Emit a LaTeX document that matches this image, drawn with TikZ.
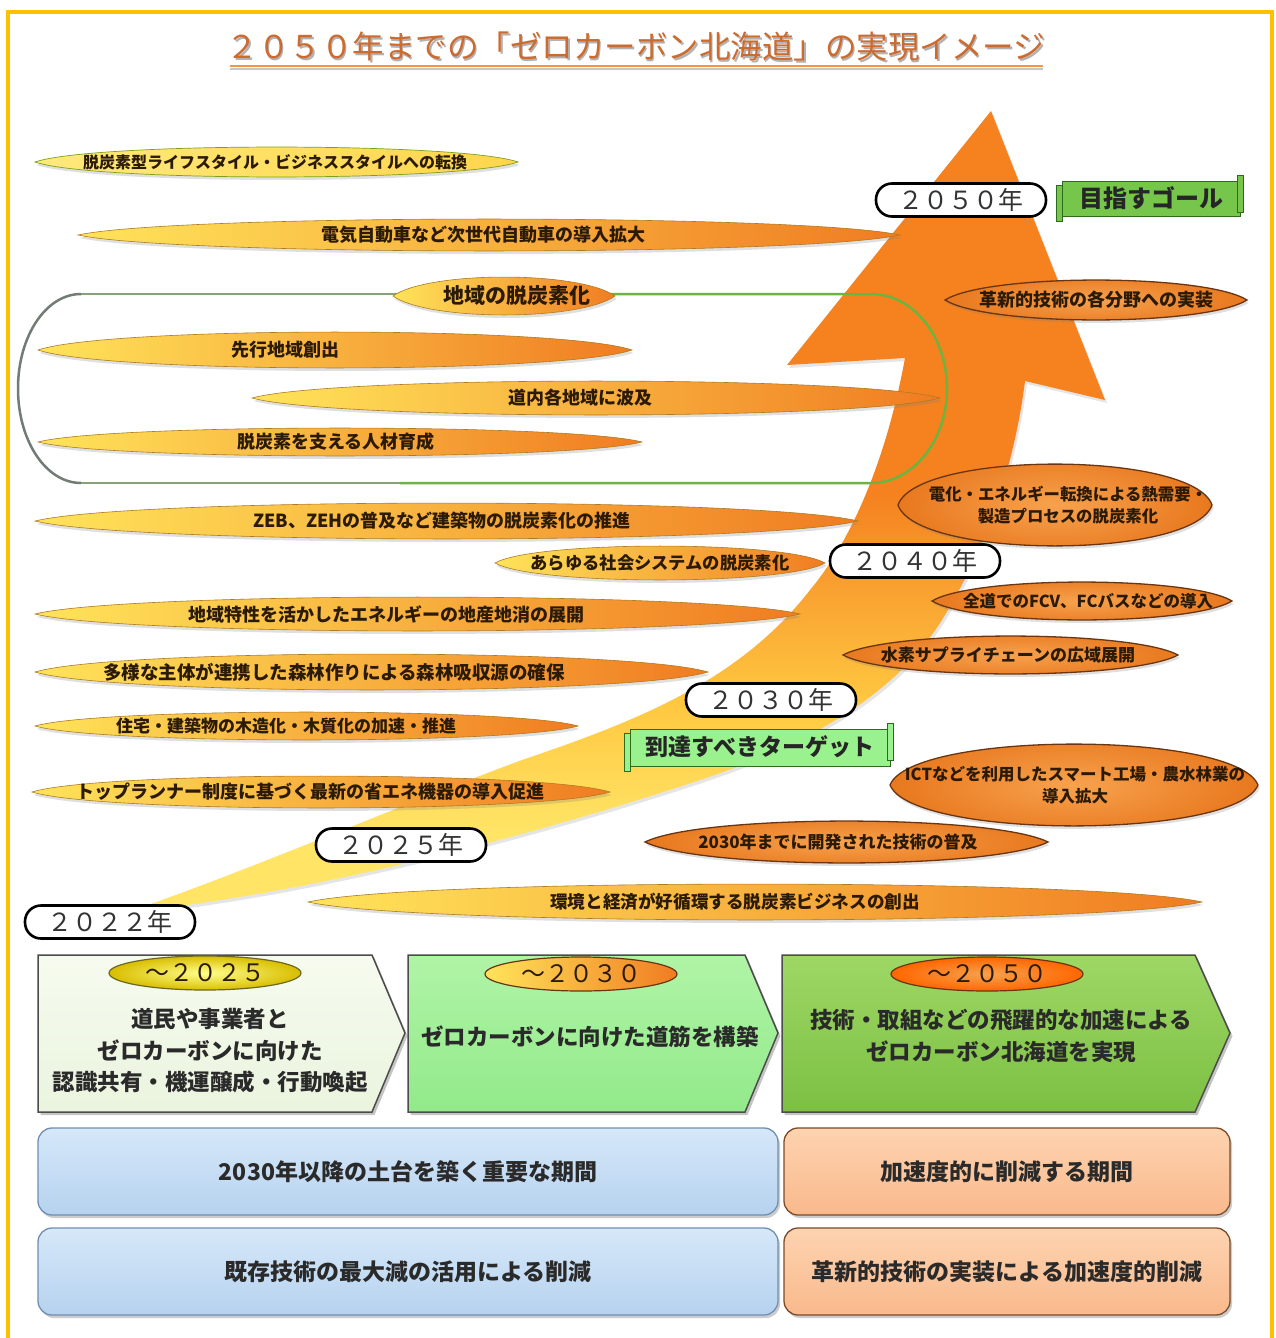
\documentclass[tikz,border=0pt]{standalone}
\usepackage{fontspec}
\setmainfont{Noto Sans CJK JP}
\usetikzlibrary{shadows,shapes.geometric}
\definecolor{ay1}{HTML}{FFE466}
\definecolor{ay2}{HTML}{FFC840}
\definecolor{ay3}{HTML}{F9A232}
\definecolor{aor}{HTML}{F5821F}
\definecolor{capY}{HTML}{FFE45A}
\definecolor{capO}{HTML}{F07C22}
\definecolor{capedge}{HTML}{B07A20}
\definecolor{captext}{HTML}{2B1A05}
\definecolor{oin}{HTML}{F7A24E}
\definecolor{oout}{HTML}{E8781E}
\definecolor{oedge}{HTML}{6A3510}
\definecolor{framecol}{HTML}{FFC000}
\definecolor{titlecol}{HTML}{CD6B2F}
\definecolor{loopg}{HTML}{6DB33F}
\definecolor{loopgr}{HTML}{727C74}
\definecolor{loopmix}{HTML}{86A276}
\definecolor{goalg}{HTML}{76C64C}
\definecolor{targg}{HTML}{9AF28E}
\definecolor{bandedge}{HTML}{2E6A1C}
\definecolor{yrtext}{HTML}{333333}
\definecolor{boxtext}{HTML}{2A2A2A}
\definecolor{ch1t}{HTML}{F6FBEF}
\definecolor{ch1b}{HTML}{EAF4DE}
\definecolor{ch2t}{HTML}{B0F4A6}
\definecolor{ch2b}{HTML}{92EA8A}
\definecolor{ch3t}{HTML}{9ED765}
\definecolor{ch3b}{HTML}{7CC043}
\definecolor{blt}{HTML}{D6E8F9}
\definecolor{blb}{HTML}{B6D2EF}
\definecolor{bld}{HTML}{6F8FB2}
\definecolor{pet}{HTML}{FDD3B0}
\definecolor{peb}{HTML}{F9B98C}
\definecolor{ped}{HTML}{7A4A2A}
\pgfdeclareverticalshading{arrowshade}{100bp}{color(0bp)=(ay1); color(30bp)=(ay1); color(38bp)=(ay2); color(45bp)=(ay3); color(51bp)=(aor); color(100bp)=(aor)}
\newcommand\spindle[6][0.12]{%
 \pgfmathsetmacro\spA{#2+#1*(#3-#2)}%
 \pgfmathsetmacro\spB{#3-#1*(#3-#2)}%
 \pgfmathsetmacro\spT{#4-1.33*#5}%
 \pgfmathsetmacro\spD{#4+1.33*#5}%
 \path[#6] (#2,#4) .. controls (\spA,\spT) and (\spB,\spT) .. (#3,#4) .. controls (\spB,\spD) and (\spA,\spD) .. cycle;}
\tikzset{
 softshadow/.style={drop shadow={shadow xshift=1.5pt,shadow yshift=-3pt,opacity=0.25}},
 yall/.style={left color=capY!80!white, middle color=capY!70!white, right color=capY!85!orange, draw=capedge!70!green, line width=0.7pt, softshadow},
 ylate/.style={left color=capY, middle color=capY!88!capO, right color=capO, draw=capedge, line width=0.6pt, softshadow},
 ymid/.style={left color=capY, middle color=capY!50!capO, right color=capO, draw=capedge, line width=0.6pt, softshadow},
 olens/.style={inner color=oin, outer color=oout, draw=oedge, line width=1.3pt, softshadow},
 captxt/.style={text=captext, inner sep=0pt, align=center, font=\bfseries\fontsize{#1}{22}\selectfont},
 captxt/.default=18,
 yrlabel/.style={draw=black, line width=2.6pt, fill=white, rounded corners=16pt, minimum width=170pt, minimum height=33pt, inner sep=0pt, text=yrtext, font=\fontsize{25}{25}\selectfont},
 banner/.style={draw=bandedge, line width=1pt},
 chevbox/.style={draw=black!70, line width=1.5pt, drop shadow={shadow xshift=2.5pt,shadow yshift=-3pt,opacity=0.45}},
 chtext/.style={text=boxtext, align=center, inner sep=0pt, font=\bfseries\fontsize{22.5}{31.5}\selectfont},
 yoval/.style={shape=ellipse, minimum width=192pt, minimum height=34pt, inner sep=0pt, line width=1.2pt, text=captext, font=\fontsize{24}{24}\selectfont},
 bbox/.style={rounded corners=14pt, minimum height=87pt, inner sep=0pt, line width=1.3pt, text=boxtext, font=\bfseries\fontsize{23}{23}\selectfont, drop shadow={shadow xshift=2pt,shadow yshift=-3pt,opacity=0.4}},
 bluebox/.style={bbox, top color=blt, bottom color=blb, draw=bld, minimum width=740pt},
 peachbox/.style={bbox, top color=pet, bottom color=peb, draw=ped, minimum width=446pt},
}
\begin{document}
\begin{tikzpicture}[x=1pt,y=-1pt]
\useasboundingbox (0,0) rectangle (1276,1338);
\fill[white] (0,0) rectangle (1276,1338);
% frame
\draw[framecol, line width=4pt] (8,1340) -- (8,12) -- (1272,12) -- (1272,1340);
% title
\node[text=black!30, font=\fontsize{31.5}{31.5}\selectfont] (titleshadow) at (637.5,48.5) {２０５０年までの「ゼロカーボン北海道」の実現イメージ};
\node[text=titlecol, font=\fontsize{31.5}{31.5}\selectfont] (title) at (636,47) {２０５０年までの「ゼロカーボン北海道」の実現イメージ};
\draw[gray!45, line width=1.5pt] (230,69) -- (1043,69);
\draw[orange!70!brown!80!white, line width=2.5pt] (230,66) -- (1043,66);
% big arrow
\shade[shading=arrowshade, drop shadow={shadow xshift=2pt,shadow yshift=-3pt,opacity=0.2}]
 (128,912) .. controls (300,895) and (520,840) .. (700,780)
 .. controls (820,740) and (900,690) .. (945,615)
 .. controls (990,540) and (1015,460) .. (1025,381)
 -- (1105,400) -- (991,111) -- (787,365) -- (905,358)
 .. controls (890,440) and (860,530) .. (810,590)
 .. controls (740,680) and (640,720) .. (522,760)
 .. controls (400,805) and (250,870) .. (128,912) -- cycle;
% green loop
\draw[loopg, line width=2.5pt] (400,294) -- (871,294) .. controls (913,294) and (947,336) .. (947,388.5) .. controls (947,441) and (913,483) .. (871,483) -- (400,483);
\draw[loopmix, line width=2.5pt] (400,294) -- (81,294);
\draw[loopmix, line width=2.5pt] (400,483) -- (81,483);
\draw[loopgr, line width=2.5pt] (81,483) .. controls (46,483) and (18,441) .. (18,388.5) .. controls (18,336) and (46,294) .. (81,294);
% left capsules
\spindle{35}{518}{162}{15}{yall}
\spindle{78}{900}{235}{16}{ymid}
\spindle[0.16]{393}{615}{296}{19}{ymid}
\spindle{38}{632}{350}{18}{ylate}
\spindle{252}{940}{398}{17}{ymid}
\spindle{38}{642}{442}{14}{ylate}
\spindle{35}{858}{521}{18}{ylate}
\spindle{495}{825}{563}{17}{ylate}
\spindle{35}{800}{614}{17}{ylate}
\spindle{35}{708}{672}{18}{ylate}
\spindle{35}{578}{726}{14}{ylate}
\spindle{32}{610}{792}{16}{ylate}
\spindle{308}{1202}{902}{18}{ymid}
% right orange capsules
\spindle[0.14]{945}{1247}{300}{20}{olens}
\spindle[0.06]{898}{1212}{505}{41}{olens}
\spindle[0.14]{932}{1232}{601}{19}{olens}
\spindle[0.14]{843}{1178}{655}{19}{olens}
\spindle[0.06]{890}{1258}{785}{41}{olens}
\spindle[0.14]{645}{1048}{842}{21}{olens}
% capsule texts
\node[captxt=16] (c1) at (275,162) {脱炭素型ライフスタイル・ビジネススタイルへの転換};
\node[captxt] (c2) at (483,235) {電気自動車など次世代自動車の導入拡大};
\node[captxt=21] (c3) at (517,296) {地域の脱炭素化};
\node[captxt] (c4) at (285,350) {先行地域創出};
\node[captxt] (c5) at (580,398) {道内各地域に波及};
\node[captxt] (c6) at (336,442) {脱炭素を支える人材育成};
\node[captxt] (c7) at (442,521) {ZEB、ZEHの普及など建築物の脱炭素化の推進};
\node[captxt=17.3] (c8) at (660,563) {あらゆる社会システムの脱炭素化};
\node[captxt] (c9) at (386,614) {地域特性を活かしたエネルギーの地産地消の展開};
\node[captxt=18.5] (c10) at (334,672) {多様な主体が連携した森林作りによる森林吸収源の確保};
\node[captxt=17] (c11) at (286,726) {住宅・建築物の木造化・木質化の加速・推進};
\node[captxt] (c12) at (310,792) {トップランナー制度に基づく最新の省エネ機器の導入促進};
\node[captxt=17.6] (c13) at (735,902) {環境と経済が好循環する脱炭素ビジネスの創出};
\node[captxt] (c14) at (1096,300) {革新的技術の各分野への実装};
\node[captxt=16.4] (c15) at (1068,505) {電化・エネルギー転換による熱需要・\\製造プロセスの脱炭素化};
\node[captxt=16.5] (c16) at (1088,601) {全道でのFCV、FCバスなどの導入};
\node[captxt=17] (c17) at (1008,655) {水素サプライチェーンの広域展開};
\node[captxt=16.5] (c18) at (1075,785) {ICTなどを利用したスマート工場・農水林業の\\導入拡大};
\node[captxt=17] (c19) at (838,842) {2030年までに開発された技術の普及};
% year labels
\node[yrlabel] (y2050) at (961,200) {２０５０年};
\node[yrlabel] (y2040) at (915,561) {２０４０年};
\node[yrlabel] (y2030) at (771,700) {２０３０年};
\node[yrlabel] (y2025) at (401,845) {２０２５年};
\node[yrlabel] (y2022) at (110,922) {２０２２年};
% banners
\path[banner, fill=goalg] (1062,181) rectangle (1240,216);
\path[banner, fill=goalg] (1056,185) rectangle (1062,221);
\path[banner, fill=goalg] (1237,175) rectangle (1243,212);
\node[text=black!85, inner sep=0pt, font=\bfseries\fontsize{24}{24}\selectfont] (goal) at (1151,198) {目指すゴール};
\path[banner, fill=targg] (630,729) rectangle (890,766);
\path[banner, fill=targg] (624,733) rectangle (630,771);
\path[banner, fill=targg] (887,723) rectangle (893,760);
\node[text=black!85, inner sep=0pt, font=\bfseries\fontsize{23}{23}\selectfont] (target) at (760,747) {到達すべきターゲット};
% chevrons
\path[chevbox, top color=ch1t, bottom color=ch1b] (38,955) -- (372,955) -- (405,1033) -- (372,1112) -- (38,1112) -- cycle;
\path[chevbox, top color=ch2t, bottom color=ch2b] (408,955) -- (745,955) -- (778,1033) -- (745,1112) -- (408,1112) -- cycle;
\path[chevbox, top color=ch3t, bottom color=ch3b] (782,955) -- (1195,955) -- (1230,1033) -- (1195,1112) -- (782,1112) -- cycle;
\node[yoval, inner color=yellow!45!white, outer color=yellow!75!orange!85!black, draw=olive!70!black] (o1) at (205,973) {～２０２５};
\node[yoval, left color=capY, middle color=capY!60!capO, right color=capO, draw=oedge] (o2) at (581,974) {～２０３０};
\node[yoval, inner color=oin, outer color=orange!80!red, draw=oedge] (o3) at (987,974) {～２０５０};
\node[chtext] (t1) at (210,1051) {道民や事業者と\\ゼロカーボンに向けた\\認識共有・機運醸成・行動喚起};
\node[chtext] (t2) at (590,1037) {ゼロカーボンに向けた道筋を構築};
\node[chtext] (t3) at (1001,1036) {技術・取組などの飛躍的な加速による\\ゼロカーボン北海道を実現};
% bottom boxes
\node[bluebox] (b1) at (408,1171.5) {2030年以降の土台を築く重要な期間};
\node[bluebox] (b2) at (408,1271.5) {既存技術の最大減の活用による削減};
\node[peachbox] (p1) at (1007,1171.5) {加速度的に削減する期間};
\node[peachbox] (p2) at (1007,1271.5) {革新的技術の実装による加速度的削減};
\end{tikzpicture}
\end{document}
